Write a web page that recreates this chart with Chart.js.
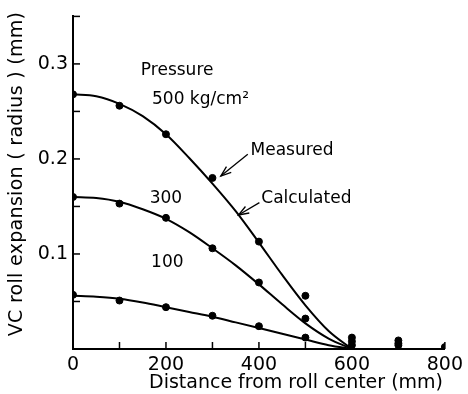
<!DOCTYPE html>
<html>
<head>
<meta charset="utf-8">
<script src="https://cdn.jsdelivr.net/npm/chart.js@4.4.1/dist/chart.umd.min.js"></script>
<style>
  html, body { margin: 0; padding: 0; background: #fff; }
  #wrap { width: 468px; height: 394px; }
</style>
</head>
<body>
<div id="wrap"><canvas id="grafico"></canvas></div>
<script>
// distancia desde el centro del rodillo (mm)
const distCalc = [0, 50, 100, 150, 200, 250, 300, 350, 400, 450, 500, 550, 600]
const calc500 = [0.268, 0.266, 0.258, 0.245, 0.226, 0.201, 0.174, 0.145, 0.112, 0.078, 0.046, 0.019, 0]
const calc300 = [0.160, 0.159, 0.155, 0.147, 0.137, 0.123, 0.106, 0.088, 0.068, 0.047, 0.027, 0.011, 0]
const calc100 = [0.056, 0.055, 0.053, 0.049, 0.044, 0.039, 0.034, 0.028, 0.022, 0.016, 0.010, 0.004, 0]

const distMed = [0, 100, 200, 300, 400, 500, 600, 700]
const med500 = [0.268, 0.256, 0.226, 0.180, 0.113, 0.056, 0.012, 0.009]
const med300 = [0.160, 0.153, 0.138, 0.106, 0.070, 0.032, 0.008, 0.006]
const med100 = [0.057, 0.051, 0.044, 0.035, 0.024, 0.012, 0.004, 0.004]
const distExtra = [800]
const medExtra = [0.002]

const xTicks = [0, 200, 400, 600, 800]
const yTicks = [0.1, 0.2, 0.3]

const aPuntos = (xs, ys) => xs.map((x, i) => ({ x: x, y: ys[i] }))

const fuente = "'DejaVu Sans', sans-serif"

const linea = (datos) => ({
    type: 'line',
    data: datos,
    borderColor: '#000',
    borderWidth: 2,
    pointRadius: 0,
    cubicInterpolationMode: 'monotone',
    fill: false
})
const puntos = (datos) => ({
    type: 'scatter',
    data: datos,
    backgroundColor: '#000',
    borderColor: '#000',
    pointRadius: 3.5,
    pointHoverRadius: 3.5
})

const flecha = (ctx, x1, y1, x2, y2) => {
    const ang = Math.atan2(y2 - y1, x2 - x1)
    ctx.beginPath(); ctx.moveTo(x1, y1); ctx.lineTo(x2, y2); ctx.stroke()
    ctx.beginPath()
    ctx.moveTo(x2 - 11 * Math.cos(ang - 0.35), y2 - 11 * Math.sin(ang - 0.35))
    ctx.lineTo(x2, y2)
    ctx.lineTo(x2 - 11 * Math.cos(ang + 0.35), y2 - 11 * Math.sin(ang + 0.35))
    ctx.stroke()
}

// marcas hacia adentro, textos y titulos
const extras = {
    id: 'extras',
    afterDraw(chart) {
        const ctx = chart.ctx
        const x = chart.scales.x
        const y = chart.scales.y
        const area = chart.chartArea
        ctx.save()
        ctx.strokeStyle = '#000'
        ctx.lineWidth = 1.5
        for (let v = 100; v <= 800; v += 100) {
            const px = x.getPixelForValue(v)
            ctx.beginPath(); ctx.moveTo(px, area.bottom); ctx.lineTo(px, area.bottom - 7); ctx.stroke()
        }
        for (let v = 0.05; v <= 0.351; v += 0.05) {
            const py = y.getPixelForValue(v)
            ctx.beginPath(); ctx.moveTo(area.left, py); ctx.lineTo(area.left + 7, py); ctx.stroke()
        }

        ctx.fillStyle = '#000'
        ctx.textBaseline = 'middle'
        ctx.textAlign = 'left'
        ctx.font = '17px ' + fuente
        const txt = (t, vx, vy) => ctx.fillText(t, x.getPixelForValue(vx), y.getPixelForValue(vy))
        txt('Pressure', 146, 0.293)
        txt('500 kg/cm²', 170, 0.2625)
        txt('Measured', 382, 0.209)
        txt('Calculated', 405, 0.158)
        txt('300', 165, 0.158)
        txt('100', 168, 0.091)

        ctx.lineWidth = 1.3
        flecha(ctx, x.getPixelForValue(376), y.getPixelForValue(0.205), x.getPixelForValue(318), y.getPixelForValue(0.182))
        flecha(ctx, x.getPixelForValue(401), y.getPixelForValue(0.154), x.getPixelForValue(356), y.getPixelForValue(0.141))

        // titulos de ejes
        ctx.textAlign = 'center'
        ctx.font = '19px ' + fuente
        ctx.fillText('Distance from roll center (mm)', 296, 383)
        ctx.letterSpacing = '0.3px'
        ctx.translate(17, 174)
        ctx.rotate(-Math.PI / 2)
        ctx.fillText('VC roll expansion ( radius ) (mm)', 0, 0)
        ctx.restore()
    }
}

new Chart(document.getElementById('grafico').getContext('2d'), {
    data: {
        datasets: [
            linea(aPuntos(distCalc, calc500)),
            linea(aPuntos(distCalc, calc300)),
            linea(aPuntos(distCalc, calc100)),
            puntos(aPuntos(distMed, med500)),
            puntos(aPuntos(distMed, med300)),
            puntos(aPuntos(distMed, med100)),
            puntos(aPuntos(distExtra, medExtra))
        ]
    },
    options: {
        responsive: true,
        maintainAspectRatio: false,
        animation: false,
        layout: { padding: { top: 12, right: 18, left: 0, bottom: 0 } },
        plugins: { legend: { display: false }, tooltip: { enabled: false } },
        scales: {
            x: {
                type: 'linear',
                min: 0,
                max: 800,
                grid: { display: false, drawTicks: false },
                border: { display: true, color: '#000', width: 2 },
                afterFit: (s) => { s.height = 45 },
                afterBuildTicks: (s) => { s.ticks = xTicks.map(v => ({ value: v })) },
                ticks: {
                    color: '#000',
                    padding: 5,
                    font: { family: fuente, size: 19 },
                    callback: (v) => String(v)
                }
            },
            y: {
                type: 'linear',
                min: 0,
                max: 0.35,
                grid: { display: false, drawTicks: false },
                border: { display: true, color: '#000', width: 2 },
                afterFit: (s) => { s.width = 73 },
                afterBuildTicks: (s) => { s.ticks = yTicks.map(v => ({ value: v })) },
                ticks: {
                    color: '#000',
                    padding: 5,
                    font: { family: fuente, size: 19 },
                    callback: (v) => v.toFixed(1)
                }
            }
        }
    },
    plugins: [extras]
})
</script>
</body>
</html>
